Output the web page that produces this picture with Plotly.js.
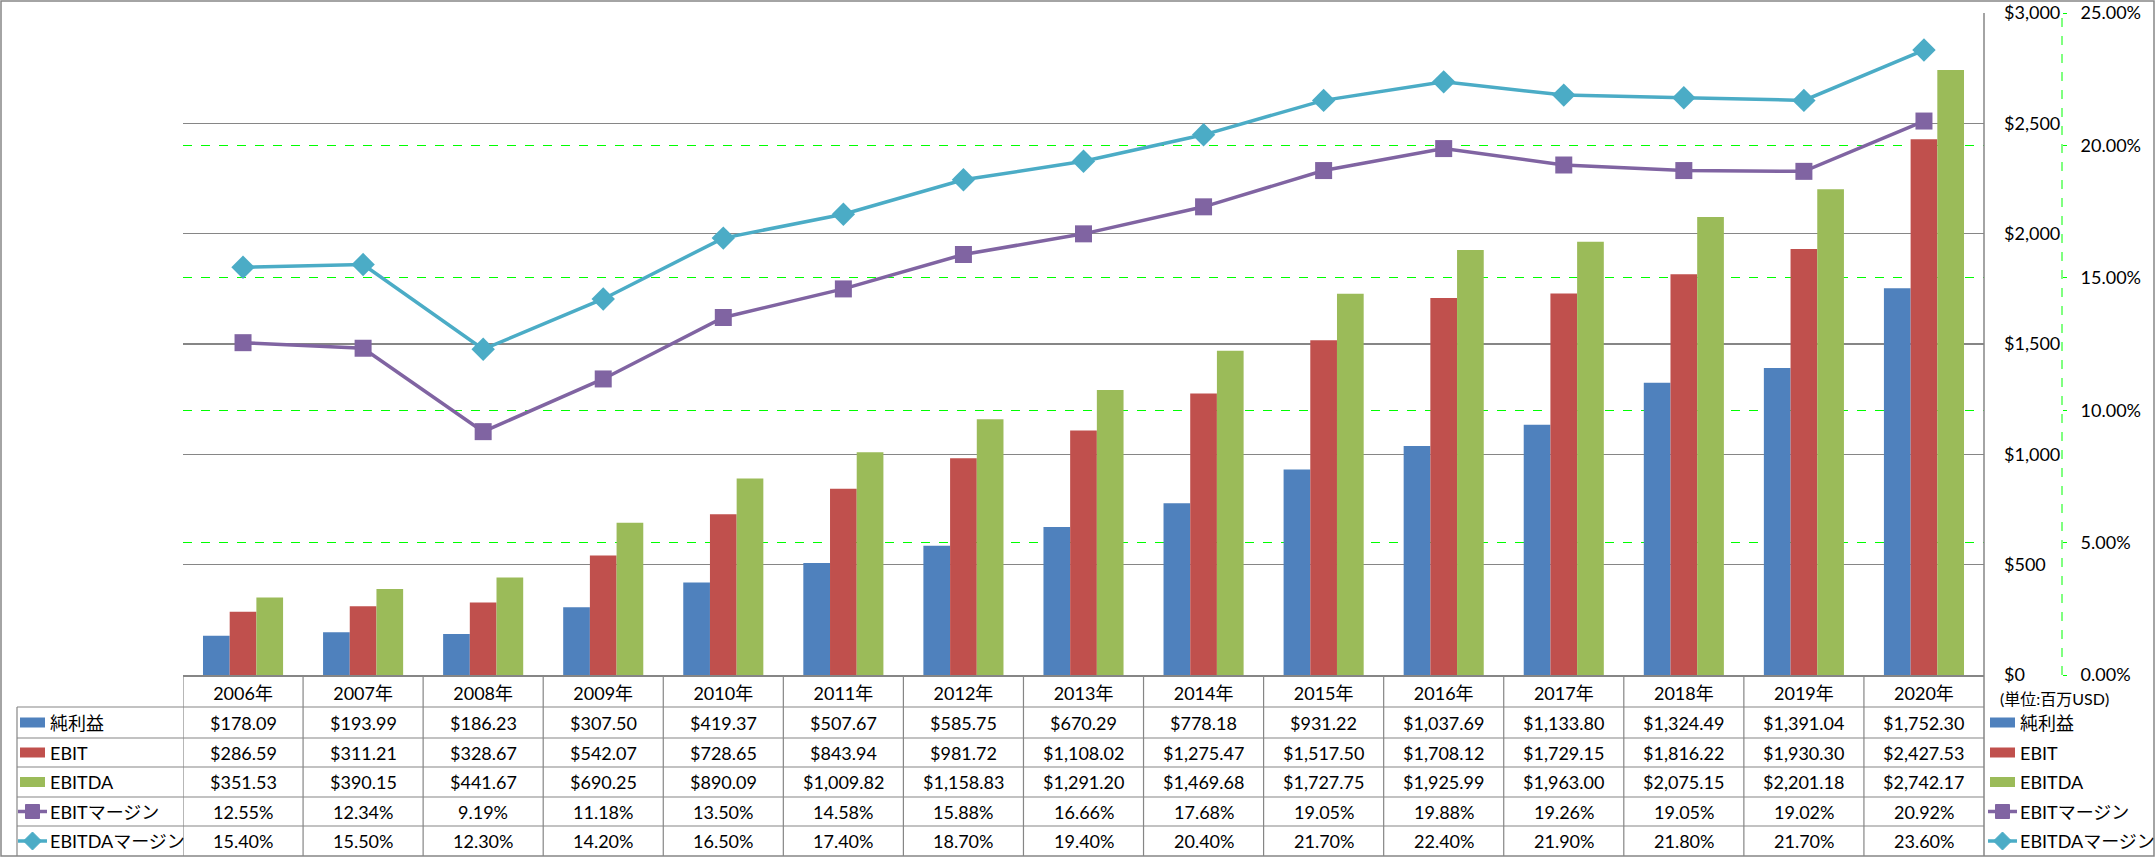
<!DOCTYPE html>
<html>
<head>
<meta charset="utf-8">
<script src="https://cdn.plot.ly/plotly-3.0.1.min.js"></script>
<style>html,body{margin:0;padding:0;background:#fff;}#chart{width:2156px;height:858px;}</style>
</head>
<body>
<div id="chart"></div>
<script>
const years = ['2006年','2007年','2008年','2009年','2010年','2011年','2012年','2013年','2014年','2015年','2016年','2017年','2018年','2019年','2020年'];
const netIncome = [178.09,193.99,186.23,307.50,419.37,507.67,585.75,670.29,778.18,931.22,1037.69,1133.80,1324.49,1391.04,1752.30];
const ebit = [286.59,311.21,328.67,542.07,728.65,843.94,981.72,1108.02,1275.47,1517.50,1708.12,1729.15,1816.22,1930.30,2427.53];
const ebitda = [351.53,390.15,441.67,690.25,890.09,1009.82,1158.83,1291.20,1469.68,1727.75,1925.99,1963.00,2075.15,2201.18,2742.17];
const ebitMargin = [12.55,12.34,9.19,11.18,13.50,14.58,15.88,16.66,17.68,19.05,19.88,19.26,19.05,19.02,20.92];
const ebitdaMargin = [15.40,15.50,12.30,14.20,16.50,17.40,18.70,19.40,20.40,21.70,22.40,21.90,21.80,21.70,23.60];
const dollarTicks = [0,500,1000,1500,2000,2500,3000];
const pctTicks = [0,5,10,15,20,25];
const seriesNames = ['純利益','EBIT','EBITDA','EBITマージン','EBITDAマージン'];
const unitLabel = '(単位:百万USD)';

const colors = ['#4F81BD','#C0504D','#9BBB59','#8064A2','#4BACC6'];
const FONT = 'Lato, "Noto Sans CJK JP", sans-serif';
const W = 2156, H = 858;
const ML = 183, MR = 94, MT = 13, MB = 183;
const PW = W - ML - MR, PH = H - MT - MB;
const plotRight = 1984;
const px2x = px => (px - ML) / PW;
const py2y = py => (H - MB - py) / PH;

const fmtD = v => '$' + v.toLocaleString('en-US', {minimumFractionDigits: 2, maximumFractionDigits: 2});
const fmtP = v => v.toFixed(2) + '%';

const traces = [
  {type:'bar', name:seriesNames[0], x:years, y:netIncome, marker:{color:colors[0]}, yaxis:'y', showlegend:false},
  {type:'bar', name:seriesNames[1], x:years, y:ebit, marker:{color:colors[1]}, yaxis:'y', showlegend:false},
  {type:'bar', name:seriesNames[2], x:years, y:ebitda, marker:{color:colors[2]}, yaxis:'y', showlegend:false},
  {type:'scatter', mode:'lines+markers', name:seriesNames[3], x:years, y:ebitMargin, yaxis:'y2',
   line:{color:colors[3], width:3.5}, marker:{symbol:'square', size:17, color:colors[3]}, showlegend:false, cliponaxis:false},
  {type:'scatter', mode:'lines+markers', name:seriesNames[4], x:years, y:ebitdaMargin, yaxis:'y2',
   line:{color:colors[4], width:3.5}, marker:{symbol:'diamond', size:18, color:colors[4]}, showlegend:false, cliponaxis:false}
];

const gray = '#868686';
const shapes = [];
const annotations = [];

// Outer border
shapes.push({type:'rect', xref:'paper', yref:'paper', x0:px2x(1), x1:px2x(2154), y0:py2y(1), y1:py2y(856), line:{color:gray, width:1.5}});
// Right edge of plot / table
shapes.push({type:'line', xref:'paper', yref:'paper', x0:px2x(plotRight), x1:px2x(plotRight), y0:py2y(MT), y1:py2y(856), line:{color:gray, width:1.5}});
// % axis dashed line
shapes.push({type:'line', xref:'paper', yref:'paper', x0:1, x1:1, y0:0, y1:1, line:{color:'#00FF00', width:1, dash:'dash'}});

// Table grid
const rowLines = [707, 738, 767, 797, 826, 856];
rowLines.slice(0, 5).forEach(py => {
  shapes.push({type:'line', xref:'paper', yref:'paper', x0:px2x(17), x1:px2x(plotRight), y0:py2y(py), y1:py2y(py), line:{color:gray, width:1.2}});
});
shapes.push({type:'line', xref:'paper', yref:'paper', x0:px2x(17), x1:px2x(17), y0:py2y(707), y1:py2y(856), line:{color:gray, width:1.2}});
for (let k = 0; k <= years.length - 1; k++) {
  shapes.push({type:'line', xref:'x', yref:'paper', x0:k - 0.5, x1:k - 0.5, y0:py2y(675), y1:py2y(856), line:{color:gray, width:1.2}});
}

const rowData = [netIncome.map(fmtD), ebit.map(fmtD), ebitda.map(fmtD), ebitMargin.map(fmtP), ebitdaMargin.map(fmtP)];
const rowCenters = rowLines.slice(0, 5).map((t, i) => (t + rowLines[i + 1]) / 2);

rowData.forEach((row, r) => {
  const yc = py2y(rowCenters[r]);
  row.forEach((txt, c) => {
    annotations.push({xref:'x', yref:'paper', x:years[c], y:yc, text:txt, showarrow:false,
      xanchor:'center', yanchor:'middle', font:{family:FONT, size:18, color:'#000'}});
  });
  annotations.push({xref:'paper', yref:'paper', x:px2x(48), y:yc, text:seriesNames[r], showarrow:false,
    xanchor:'left', yanchor:'middle', font:{family:FONT, size:18, color:'#000'}});
  annotations.push({xref:'paper', yref:'paper', x:px2x(2018), y:yc, text:seriesNames[r], showarrow:false,
    xanchor:'left', yanchor:'middle', font:{family:FONT, size:18, color:'#000'}});
});

function addKey(r, xL, xR, cyPx) {
  const yc = py2y(cyPx);
  if (r < 3) {
    shapes.push({type:'rect', xref:'paper', yref:'paper', x0:px2x(xL), x1:px2x(xR), y0:py2y(cyPx + 5), y1:py2y(cyPx - 5),
      fillcolor:colors[r], line:{width:0}});
  } else {
    shapes.push({type:'line', xref:'paper', yref:'paper', x0:px2x(xL), x1:px2x(xR), y0:yc, y1:yc, line:{color:colors[r], width:3.5}});
    const cx = (xL + xR) / 2;
    let path;
    if (r === 3) {
      const h = 7;
      path = `M ${px2x(cx-h)},${py2y(cyPx-h)} L ${px2x(cx+h)},${py2y(cyPx-h)} L ${px2x(cx+h)},${py2y(cyPx+h)} L ${px2x(cx-h)},${py2y(cyPx+h)} Z`;
    } else {
      const h = 9;
      path = `M ${px2x(cx-h)},${py2y(cyPx)} L ${px2x(cx)},${py2y(cyPx-h)} L ${px2x(cx+h)},${py2y(cyPx)} L ${px2x(cx)},${py2y(cyPx+h)} Z`;
    }
    shapes.push({type:'path', xref:'paper', yref:'paper', path:path, fillcolor:colors[r], line:{color:colors[r], width:1}});
  }
}
rowCenters.forEach((cy, r) => {
  if (r < 3) { addKey(r, 20, 45, cy); addKey(r, 1990, 2015, cy); }
  else { addKey(r, 18, 47, cy); addKey(r, 1988, 2017, cy); }
});

annotations.push({xref:'paper', yref:'paper', x:px2x(1998), y:py2y(698), text:unitLabel, showarrow:false,
  xanchor:'left', yanchor:'middle', font:{family:FONT, size:16, color:'#000'}});

const layout = {
  width: W, height: H,
  margin: {l:ML, r:MR, t:MT, b:MB, pad:0},
  paper_bgcolor:'#fff', plot_bgcolor:'rgba(0,0,0,0)',
  barmode:'group', bargap:0.333, bargroupgap:0,
  showlegend:false,
  font:{family:FONT, size:18, color:'#000'},
  xaxis:{type:'category', range:[-0.5, years.length - 0.5], autorange:false, domain:[0, (plotRight - ML) / PW], showline:true, linecolor:gray, linewidth:1.5,
    ticks:'', showgrid:false, zeroline:false, tickfont:{family:FONT, size:18, color:'#000'}, ticklabelstandoff:2},
  yaxis:{side:'right', range:[0,3000], tickvals:dollarTicks, ticktext:dollarTicks.map(v => '$' + v.toLocaleString('en-US')),
    showgrid:true, gridcolor:gray, gridwidth:1.5, zeroline:false, showline:false, ticks:'', ticklabelstandoff:19,
    tickfont:{family:FONT, size:18, color:'#000'}},
  yaxis2:{side:'right', overlaying:'y', anchor:'free', position:1, range:[0,25], tickvals:pctTicks,
    ticktext:pctTicks.map(v => v.toFixed(2) + '%'),
    showgrid:true, gridcolor:'#00FF00', gridwidth:1, griddash:'dash', zeroline:false, showline:false,
    ticks:'outside', ticklen:4, tickcolor:'#00FF00', tickwidth:1, ticklabelstandoff:10,
    tickfont:{family:FONT, size:18, color:'#000'}},
  shapes: shapes,
  annotations: annotations
};

Plotly.newPlot('chart', traces, layout, {displayModeBar:false, staticPlot:true});
</script>
</body>
</html>
